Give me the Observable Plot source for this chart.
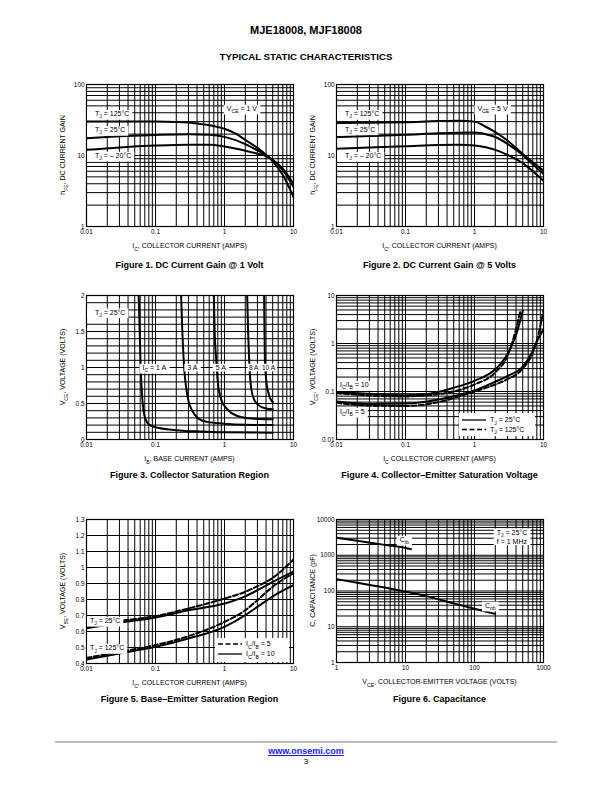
<!DOCTYPE html>
<html>
<head>
<meta charset="utf-8">
<script src="https://cdn.jsdelivr.net/npm/d3@7"></script>
<script src="https://cdn.jsdelivr.net/npm/@observablehq/plot@0.6"></script>
<style>
html,body{margin:0;padding:0;background:#fff;}
#page{position:relative;width:612px;height:792px;overflow:hidden;background:#fff;font-family:"Liberation Sans",Arial,Helvetica,sans-serif;color:#000;}
.t{position:absolute;white-space:nowrap;line-height:1;}
.center{transform:translateX(-50%);}
.chart{position:absolute;}
.chart svg{display:block;max-width:none;overflow:visible;background:transparent;}
a{color:#1a1aff;}
</style>
</head>
<body>
<div id="page">
  <div class="t center" style="left:306px;top:25px;font-size:11px;font-weight:bold;">MJE18008, MJF18008</div>
  <div class="t center" style="left:306px;top:52px;font-size:9.7px;font-weight:bold;">TYPICAL STATIC CHARACTERISTICS</div>
  <div class="t center" style="left:189.5px;top:260.6px;font-size:9px;font-weight:bold;">Figure 1. DC Current Gain @ 1 Volt</div>
  <div class="t center" style="left:439.5px;top:260.6px;font-size:9px;font-weight:bold;">Figure 2. DC Current Gain @ 5 Volts</div>
  <div class="t center" style="left:189.5px;top:470.6px;font-size:9px;font-weight:bold;">Figure 3. Collector Saturation Region</div>
  <div class="t center" style="left:439.5px;top:470.6px;font-size:9px;font-weight:bold;">Figure 4. Collector–Emitter Saturation Voltage</div>
  <div class="t center" style="left:189.5px;top:694.6px;font-size:9px;font-weight:bold;">Figure 5. Base–Emitter Saturation Region</div>
  <div class="t center" style="left:439.5px;top:694.6px;font-size:9px;font-weight:bold;">Figure 6. Capacitance</div>
  <div style="position:absolute;left:55px;top:741px;width:502px;height:2px;background:#bdbdbd;"></div>
  <div class="t center" style="left:306px;top:747.3px;font-size:9px;font-weight:bold;"><a href="#">www.onsemi.com</a></div>
  <div class="t center" style="left:306px;top:757.8px;font-size:8px;">3</div>
</div>
<script>
// ---------------- DATA ----------------
// Figure 1: DC current gain hFE vs IC (A), VCE = 1 V
const f1_tj125 = [[0.01,30],[0.03,30],[0.1,30],[0.2,29.6],[0.4,28.3],[0.7,26],[1,23.8],[1.5,20],[2,16.6],[3,12.8],[4,10.2],[5,8.3],[7,5.3],[10,2.6]];
const f1_tj25  = [[0.01,17.5],[0.03,18.6],[0.1,19.5],[0.3,20],[0.6,19.6],[1,18.3],[2,14.5],[3,11.8],[4,10],[5,8.7],[7,6.2],[10,3.6]];
const f1_tjm20 = [[0.01,12],[0.03,13],[0.1,13.8],[0.3,14.2],[0.6,14.2],[1,13.4],[2,11.7],[3,10.6],[4,9.8],[5,8.6],[7,6.5],[10,4.0]];
// Figure 2: DC current gain hFE vs IC (A), VCE = 5 V
const f2_tj125 = [[0.01,28.7],[0.03,29],[0.1,29.5],[0.3,30.5],[0.6,30.8],[1,30],[1.5,25],[2,21.4],[3,16.3],[5,10.5],[7,8],[10,6.1]];
const f2_tj25  = [[0.01,18.2],[0.03,18.8],[0.1,19.6],[0.3,20.5],[1,21],[1.5,19.8],[2,18.2],[3,14.6],[5,10.2],[7,7.5],[10,5.5]];
const f2_tjm20 = [[0.01,12.4],[0.03,13],[0.1,13.5],[0.3,14.1],[0.6,14.2],[1,13.8],[2,12],[3,10.2],[5,7.8],[7,6],[10,4.4]];
// Figure 3: VCE (V) vs IB (A), TJ = 25°C
const f3_ic1  = [[0.057,2.0],[0.059,1.5],[0.061,1.0],[0.064,0.6],[0.067,0.4],[0.072,0.28],[0.08,0.21],[0.1,0.17],[0.2,0.13],[0.5,0.11],[1,0.1],[5,0.095]];
const f3_ic3  = [[0.235,2.0],[0.245,1.5],[0.26,1.0],[0.28,0.7],[0.3,0.54],[0.34,0.4],[0.42,0.29],[0.56,0.245],[1,0.22],[2,0.205],[5,0.2]];
const f3_ic5  = [[0.70,2.0],[0.72,1.5],[0.76,1.1],[0.8,0.8],[0.9,0.55],[1.1,0.42],[1.5,0.33],[2.5,0.29],[5,0.28]];
const f3_ic8  = [[2.13,2.0],[2.2,1.5],[2.3,1.0],[2.45,0.7],[2.7,0.55],[3.2,0.47],[4,0.43],[5,0.42]];
const f3_ic10 = [[3.75,2.0],[3.8,1.5],[3.85,1.1],[4.0,0.85],[4.3,0.66],[4.6,0.57],[5,0.52]];
// Figure 4: VCE(sat) (V) vs IC (A)
const f4_r10_25  = [[0.01,0.098],[0.02,0.092],[0.05,0.086],[0.1,0.084],[0.2,0.088],[0.5,0.12],[1,0.167],[2,0.29],[3,0.6],[4,1.5],[5,4.8]];
const f4_r10_125 = [[0.01,0.092],[0.02,0.086],[0.05,0.08],[0.1,0.079],[0.2,0.083],[0.5,0.1],[1,0.14],[2,0.25],[3,0.55],[4,2.0],[4.6,4.6]];
const f4_r5_25   = [[0.01,0.062],[0.03,0.055],[0.1,0.056],[0.3,0.068],[1,0.105],[2,0.16],[3,0.21],[5,0.33],[7,0.7],[8,1.1],[9,1.5],[10,2.0]];
const f4_r5_125  = [[0.01,0.058],[0.03,0.051],[0.1,0.05],[0.3,0.06],[1,0.1],[2,0.14],[3,0.18],[5,0.3],[7,0.65],[8.5,1.6],[10,5.0]];
// Figure 5: VBE(sat) (V) vs IC (A)
const f5_25_r10  = [[0.01,0.62],[0.03,0.655],[0.1,0.688],[0.3,0.733],[1,0.775],[2,0.82],[3,0.858],[5,0.91],[10,0.975]];
const f5_25_r5   = [[0.01,0.63],[0.03,0.665],[0.1,0.696],[0.3,0.744],[1,0.806],[2,0.848],[3,0.883],[5,0.935],[10,1.05]];
const f5_125_r10 = [[0.01,0.425],[0.03,0.463],[0.1,0.504],[0.3,0.556],[1,0.629],[2,0.702],[3,0.754],[5,0.82],[10,0.89]];
const f5_125_r5  = [[0.01,0.435],[0.03,0.473],[0.1,0.515],[0.3,0.571],[1,0.66],[2,0.733],[3,0.796],[5,0.88],[10,0.965]];
// Figure 6: capacitance (pF) vs VCE (V)
const f6_cib = [[1,3100],[2,2550],[5,1950],[10,1600],[12,1480]];
const f6_cob = [[1,215],[2,170],[5,125],[10,96],[20,72],[50,45],[100,32],[200,23]];

// tick labels
const ticksI = [0.01, 0.1, 1, 10];
const ticksGain = [1, 10, 100];
const ticksVce3 = [0, 0.5, 1, 1.5, 2];
const ticksVce4 = [0.01, 0.1, 1, 10];
const ticksVbe = [0.4, 0.5, 0.6, 0.7, 0.8, 0.9, 1, 1.1, 1.2, 1.3];
const ticksVr = [1, 10, 100, 1000];
const ticksCap = [1, 10, 100, 1000, 10000];
const gridVce3 = [0,0.1,0.2,0.3,0.4,0.5,0.6,0.7,0.8,0.9,1,1.1,1.2,1.3,1.4,1.5,1.6,1.7,1.8,1.9,2];

// ---------------- DRAWING ----------------
const FONT = '"Liberation Sans", Arial, Helvetica, sans-serif';
const ML = 50, MT = 10;

function logGrid(e0, e1) {
  const v = [];
  for (let e = e0; e < e1; e++) for (let k = 1; k <= 9; k++) v.push(+(k * Math.pow(10, e)).toPrecision(6));
  v.push(Math.pow(10, e1));
  return v;
}

function rich(sel, str, size) {
  const parts = str.split(/(\{[^}]*\})/).filter(s => s.length);
  let low = false;
  const off = size * 0.3;
  for (const p of parts) {
    const isSub = p[0] === "{";
    const ts = sel.append("tspan").text(isSub ? p.slice(1, -1) : p);
    if (isSub) { ts.attr("font-size", size * 0.72); if (!low) { ts.attr("dy", off); low = true; } }
    else if (low) { ts.attr("dy", -off); low = false; }
  }
}

function makeChart(o) {
  const [x0, y0, x1, y1] = o.frame;
  const pw = x1 - x0, ph = y1 - y0;
  const W = ML + pw + 12, H = MT + ph + 28;
  const fmt = d => String(d);
  const marks = [
    Plot.ruleX(o.xGrid, {stroke: "#000", strokeWidth: 1}),
    Plot.ruleY(o.yGrid, {stroke: "#000", strokeWidth: 1})
  ];
  for (const s of o.series) {
    const opt = {x: d => d[0], y: d => d[1], stroke: "#000", strokeWidth: 2, curve: "monotone-x", clip: true};
    if (s.dash) opt.strokeDasharray = "5,2.5";
    marks.push(Plot.line(s.data, opt));
  }
  marks.push(Plot.frame({stroke: "#000", strokeWidth: 1.2}));
  const svg = Plot.plot({
    width: W, height: H,
    marginLeft: ML, marginTop: MT, marginRight: W - ML - pw, marginBottom: H - MT - ph,
    style: {fontFamily: FONT, fontSize: "6.4px", color: "#000", background: "transparent", overflow: "visible"},
    x: {type: o.xType, domain: o.xDomain, ticks: o.xTicks, tickFormat: fmt, tickSize: 0, tickPadding: 3, label: null},
    y: {type: o.yType, domain: o.yDomain, ticks: o.yTicks, tickFormat: fmt, tickSize: 0, tickPadding: 2, label: null},
    marks
  });
  const div = document.createElement("div");
  div.className = "chart";
  div.style.left = (x0 - ML) + "px";
  div.style.top = (y0 - MT) + "px";
  div.style.width = W + "px";
  div.style.height = H + "px";
  div.appendChild(svg);
  document.getElementById("page").appendChild(div);

  const xs = svg.scale("x"), ys = svg.scale("y");
  const sx = v => xs.apply(v), sy = v => ys.apply(v);
  const root = d3.select(svg);
  const S = 7;

  // axis titles
  const xt = root.append("text").attr("x", ML + pw / 2).attr("y", MT + ph + 20 + S * 0.35)
    .attr("text-anchor", "middle").attr("font-size", S).attr("font-family", FONT).attr("fill", "#000");
  rich(xt, o.xLabel, S);
  const yt = root.append("text").attr("transform", `translate(${ML - 23},${MT + ph / 2}) rotate(-90)`)
    .attr("y", S * 0.35).attr("text-anchor", "middle").attr("font-size", S).attr("font-family", FONT).attr("fill", "#000");
  rich(yt, o.yLabel, S);

  // annotation boxes (positioned in data coordinates)
  for (const a of (o.notes || [])) {
    const size = a.size || 7;
    const g = root.append("g").attr("font-family", FONT).attr("font-size", size).attr("fill", "#000").attr("text-anchor", "start");
    const lines = a.lines || [a.text];
    const lh = a.lh || 9;
    lines.forEach((ln, i) => {
      const t = g.append("text").attr("text-anchor", "start").attr("x", sx(a.x)).attr("y", sy(a.y) + size * 0.35 + (i - (lines.length - 1) / 2) * lh);
      rich(t, ln, size);
    });
    const b = g.node().getBBox();
    const pad = a.pad != null ? a.pad : 3;
    const left = (b.x - ML < 12) ? ML + 1 : b.x - pad;
    g.insert("rect", "text").attr("x", left).attr("y", b.y - 0.3)
      .attr("width", b.x + b.width + pad - left).attr("height", b.height + 0.6).attr("fill", "#fff");
  }

  // legend box (layout offsets relative to the frame)
  if (o.legend) {
    const L = o.legend;
    const g = root.append("g").attr("transform", `translate(${ML + L.x},${MT + L.y})`).attr("font-family", FONT).attr("font-size", 7).attr("fill", "#000").attr("text-anchor", "start");
    g.append("rect").attr("width", L.w).attr("height", L.h).attr("fill", "#fff");
    L.items.forEach((it, i) => {
      const yy = L.top + i * L.gap;
      const ln = g.append("line").attr("x1", 3).attr("x2", 27).attr("y1", yy).attr("y2", yy).attr("stroke", "#000").attr("stroke-width", 1.3);
      if (it.dash) ln.attr("stroke-dasharray", "5,2.5");
      const t = g.append("text").attr("text-anchor", "start").attr("x", 31).attr("y", yy + 7 * 0.35);
      rich(t, it.text, 7);
    });
  }
}

const solid = d => ({data: d});
const dashed = d => ({data: d, dash: true});

makeChart({
  frame: [86, 84, 293, 226], xType: "log", yType: "log",
  xDomain: [0.01, 10], yDomain: [1, 100], xTicks: ticksI, yTicks: ticksGain,
  xGrid: logGrid(-2, 1), yGrid: logGrid(0, 2),
  series: [solid(f1_tj125), solid(f1_tj25), solid(f1_tjm20)],
  xLabel: "I{C}, COLLECTOR CURRENT (AMPS)", yLabel: "h{FE}, DC CURRENT GAIN",
  notes: [
    {x: 0.0135, y: 38, text: "T{J} = 125°C"},
    {x: 0.0135, y: 22.6, text: "T{J} = 25°C"},
    {x: 0.0135, y: 9.8, text: "T{J} = – 20°C"},
    {x: 1.1, y: 45, text: "V{CE} = 1 V"}
  ]
});

makeChart({
  frame: [336, 84, 543, 226], xType: "log", yType: "log",
  xDomain: [0.01, 10], yDomain: [1, 100], xTicks: ticksI, yTicks: ticksGain,
  xGrid: logGrid(-2, 1), yGrid: logGrid(0, 2),
  series: [solid(f2_tj125), solid(f2_tj25), solid(f2_tjm20)],
  xLabel: "I{C}, COLLECTOR CURRENT (AMPS)", yLabel: "h{FE}, DC CURRENT GAIN",
  notes: [
    {x: 0.0135, y: 38, text: "T{J} = 125°C"},
    {x: 0.0135, y: 23, text: "T{J} = 25°C"},
    {x: 0.0135, y: 9.7, text: "T{J} = – 20°C"},
    {x: 1.12, y: 45, text: "V{CE} = 5 V"}
  ]
});

makeChart({
  frame: [86, 295, 293, 439], xType: "log", yType: "linear",
  xDomain: [0.01, 10], yDomain: [0, 2], xTicks: ticksI, yTicks: ticksVce3,
  xGrid: logGrid(-2, 1), yGrid: gridVce3,
  series: [solid(f3_ic1), solid(f3_ic3), solid(f3_ic5), solid(f3_ic8), solid(f3_ic10)],
  xLabel: "I{B}, BASE CURRENT (AMPS)", yLabel: "V{CE}, VOLTAGE (VOLTS)",
  notes: [
    {x: 0.0135, y: 1.76, text: "T{J} = 25°C"},
    {x: 0.066, y: 0.99, text: "I{C} = 1 A"},
    {x: 0.294, y: 0.99, text: "3 A"},
    {x: 0.76, y: 0.99, text: "5 A"},
    {x: 2.3, y: 0.99, text: "8 A", pad: 1.5, size: 6.5},
    {x: 3.55, y: 0.99, text: "10 A", pad: 1.5, size: 6.5}
  ]
});

makeChart({
  frame: [336, 295, 543, 439], xType: "log", yType: "log",
  xDomain: [0.01, 10], yDomain: [0.01, 10], xTicks: ticksI, yTicks: ticksVce4,
  xGrid: logGrid(-2, 1), yGrid: logGrid(-2, 1),
  series: [solid(f4_r10_25), dashed(f4_r10_125), solid(f4_r5_25), dashed(f4_r5_125)],
  xLabel: "I{C} COLLECTOR CURRENT (AMPS)", yLabel: "V{CE}, VOLTAGE (VOLTS)",
  notes: [
    {x: 0.0114, y: 0.135, text: "I{C}/I{B} = 10"},
    {x: 0.0114, y: 0.037, text: "I{C}/I{B} = 5"}
  ],
  legend: {x: 123, y: 118, w: 76, h: 23, top: 7, gap: 9.5,
    items: [{text: "T{J} = 25°C"}, {text: "T{J} = 125°C", dash: true}]}
});

makeChart({
  frame: [86, 519, 293, 663], xType: "log", yType: "linear",
  xDomain: [0.01, 10], yDomain: [0.4, 1.3], xTicks: ticksI, yTicks: ticksVbe,
  xGrid: logGrid(-2, 1), yGrid: ticksVbe,
  series: [solid(f5_25_r10), dashed(f5_25_r5), solid(f5_125_r10), dashed(f5_125_r5)],
  xLabel: "I{C}, COLLECTOR CURRENT (AMPS)", yLabel: "V{BE}, VOLTAGE (VOLTS)",
  notes: [
    {x: 0.0114, y: 0.664, text: "T{J} = 25°C"},
    {x: 0.0114, y: 0.494, text: "T{J} = 125°C"}
  ],
  legend: {x: 129, y: 119, w: 74, h: 24, top: 6, gap: 10,
    items: [{text: "I{C}/I{B} = 5", dash: true}, {text: "I{C}/I{B} = 10"}]}
});

makeChart({
  frame: [336, 519, 543, 662], xType: "log", yType: "log",
  xDomain: [1, 1000], yDomain: [1, 10000], xTicks: ticksVr, yTicks: ticksCap,
  xGrid: logGrid(0, 3), yGrid: logGrid(0, 4),
  series: [solid(f6_cib), solid(f6_cob)],
  xLabel: "V{CE}, COLLECTOR-EMITTER VOLTAGE (VOLTS)", yLabel: "C, CAPACITANCE (pF)",
  notes: [
    {x: 8.4, y: 2630, text: "C{ib}"},
    {x: 144, y: 38, text: "C{ob}"},
    {x: 214, y: 3170, lines: ["T{J} = 25°C", "f = 1 MHz"], lh: 9}
  ]
});
</script>
</body>
</html>
